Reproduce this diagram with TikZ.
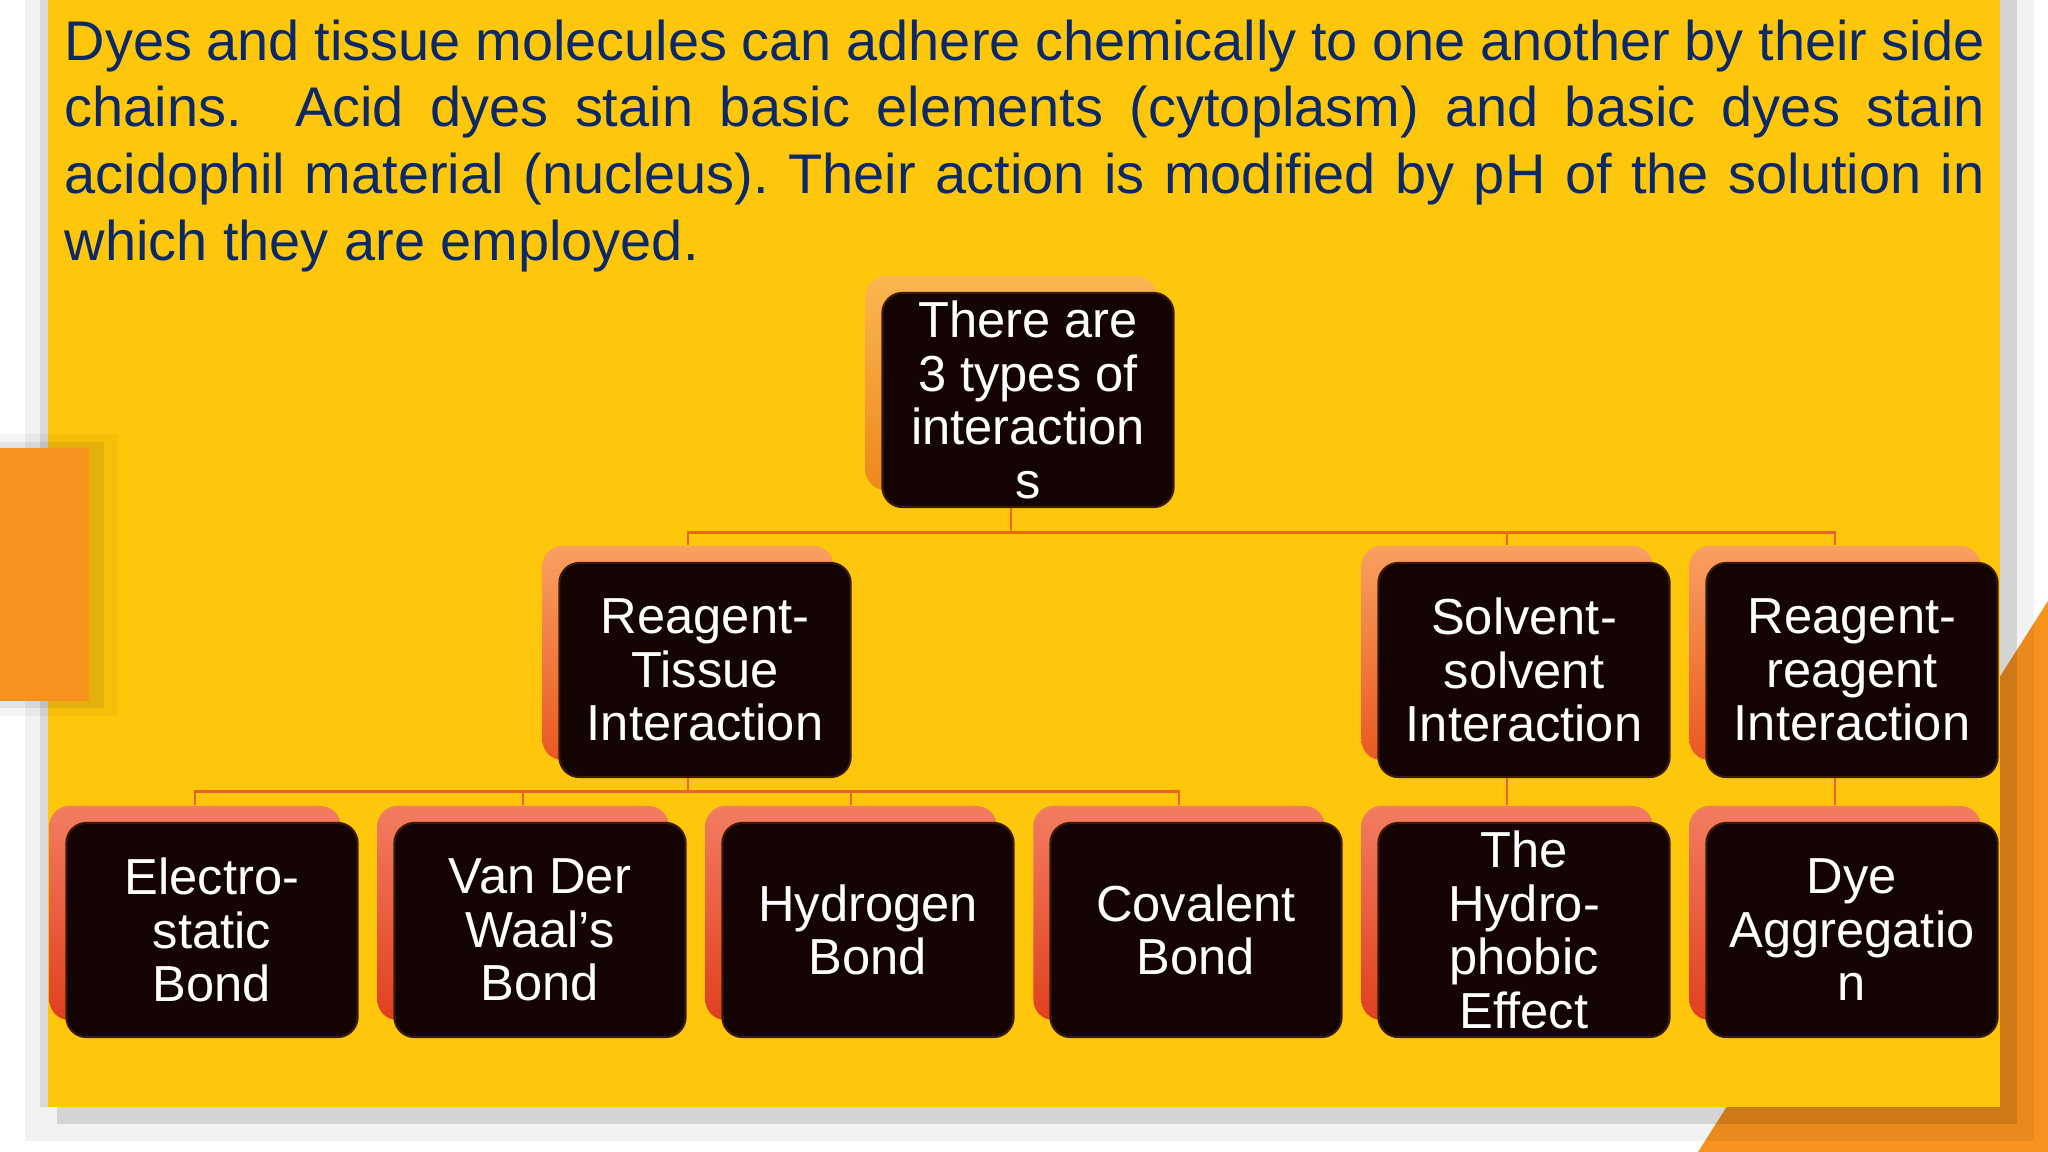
\documentclass[tikz,border=0pt]{standalone}
\usepackage{fontspec}
\setmainfont{Liberation Sans}
\usepackage{tikz}
\usepackage{xcolor}
\definecolor{slide}{HTML}{FFC70B}
\definecolor{tabc}{HTML}{F7921E}
\definecolor{ink}{HTML}{0B2867}
\definecolor{boxdark}{HTML}{140404}
\definecolor{boxedge}{HTML}{3A1A0C}
\definecolor{wirec}{HTML}{E9642A}
\pgfdeclarelayer{bg}
\pgfdeclarelayer{links}
\pgfsetlayers{bg,links,main}

\begin{document}
\begin{tikzpicture}[x=0.01cm,y=-0.01cm]
\tikzstyle{every node}+=[inner sep=0pt]
\tikzstyle{box}=[draw=boxedge, line width=0.6pt, fill=boxdark, rounded corners=0.2cm, minimum width=2.91cm, minimum height=2.14cm, text=white, align=center, font=\fontsize{14.4pt}{15.2pt}\selectfont]
\tikzstyle{plate}=[rounded corners=0.2cm, minimum width=2.91cm, minimum height=2.14cm]
\tikzstyle{plate1}=[plate, top color={rgb,255:red,251;green,182;blue,80}, middle color={rgb,255:red,243;green,154;blue,30}, bottom color={rgb,255:red,238;green,136;blue,26}]
\tikzstyle{plate2}=[plate, top color={rgb,255:red,249;green,160;blue,96}, middle color={rgb,255:red,240;green,118;blue,40}, bottom color={rgb,255:red,234;green,88;blue,34}]
\tikzstyle{plate3}=[plate, top color={rgb,255:red,242;green,124;blue,96}, middle color={rgb,255:red,232;green,80;blue,46}, bottom color={rgb,255:red,224;green,64;blue,31}]
\tikzstyle{wire}=[wirec, line width=0.8pt]
\tikzstyle{para}=[anchor=north west, text width=19.19cm, align=justify, text=ink, font=\fontsize{15.9pt}{18.95pt}\selectfont]
\useasboundingbox (0,0) rectangle (2048,1152);
\begin{pgfonlayer}{bg}
\fill [white] (0,0) rectangle (2048,1152);
\fill [tabc] (2048,601) -- (1698,1152) -- (2048,1152) -- cycle;
\fill [black, opacity=0.05] (25,0) rectangle (2034,1141);
\fill [black, opacity=0.12] (57,0) rectangle (2017,1124);
\fill [black, opacity=0.1] (40,0) rectangle (48,1107);
\fill [slide] (48,0) rectangle (2000,1107);
\fill [black, opacity=0.04] (0,434) rectangle (118,716);
\fill [black, opacity=0.07] (0,442) rectangle (104,708);
\fill [tabc] (0,448) rectangle (89,701);
\end{pgfonlayer}
\node [para] (intro) at (64,19) {\hyphenpenalty=10000 Dyes and tissue molecules can adhere chemically to one another by their side\linebreak chains.  Acid dyes stain basic elements (cytoplasm) and basic dyes stain\linebreak acidophil material (nucleus).\ Their action is modified by pH of the solution in\linebreak which they are employed.};
\node [plate1] (top-p) at (1011,383) {};
\node [box] (top) at (1028,400) {There are\\3 types of\\interaction\\s};
\node [plate2] (rt-p) at (688,653) {};
\node [box] (rt) at (705,670) {Reagent-\\Tissue\\Interaction};
\node [plate2] (ss-p) at (1507,653) {};
\node [box] (ss) at (1524,670) {Solvent-\\solvent\\Interaction};
\node [plate2] (rr-p) at (1835,653) {};
\node [box] (rr) at (1852,670) {Reagent-\\reagent\\Interaction};
\node [plate3] (es-p) at (195,913) {};
\node [box] (es) at (212,930) {Electro-\\static\\Bond};
\node [plate3] (vdw-p) at (523,913) {};
\node [box] (vdw) at (540,930) {Van Der\\Waal’s\\Bond};
\node [plate3] (hb-p) at (851,913) {};
\node [box] (hb) at (868,930) {Hydrogen\\Bond};
\node [plate3] (cb-p) at (1179,913) {};
\node [box] (cb) at (1196,930) {Covalent\\Bond};
\node [plate3] (hp-p) at (1507,913) {};
\node [box] (hp) at (1524,930) {The\\Hydro-\\phobic\\Effect};
\node [plate3] (da-p) at (1835,913) {};
\node [box] (da) at (1852,930) {Dye\\Aggregatio\\n};
\begin{pgfonlayer}{links}
\draw [wire] (top-p.south) -- ++(0,42) -| (rt-p.north);
\draw [wire] (top-p.south) -- ++(0,42) -| (ss-p.north);
\draw [wire] (top-p.south) -- ++(0,42) -| (rr-p.north);
\draw [wire] (rt-p.south) -- ++(0,31) -| (es-p.north);
\draw [wire] (rt-p.south) -- ++(0,31) -| (vdw-p.north);
\draw [wire] (rt-p.south) -- ++(0,31) -| (hb-p.north);
\draw [wire] (rt-p.south) -- ++(0,31) -| (cb-p.north);
\draw [wire] (ss-p.south) -- (hp-p.north);
\draw [wire] (rr-p.south) -- (da-p.north);
\end{pgfonlayer}
\end{tikzpicture}
\end{document}
